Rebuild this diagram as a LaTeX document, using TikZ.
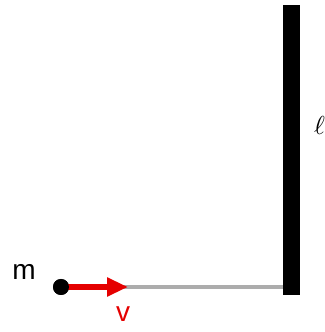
\documentclass[tikz,border=0pt]{standalone}
\usepackage{fontspec}
\setmainfont{Liberation Sans}
\usetikzlibrary{arrows.meta}

\tikzset{
  wall/.style={fill=black, draw=none, minimum width=17pt, minimum height=290pt, inner sep=0pt},
  mass/.style={circle, fill=black, minimum size=16pt, inner sep=0pt},
  rod/.style={gray!65, line width=4pt},
  vel/.style={red!90!black, line width=6pt, -{Triangle[length=21pt,width=18pt]}},
  lbl/.style={font=\fontsize{28}{30}\selectfont}
}

\begin{document}
\begin{tikzpicture}[x=1pt,y=1pt]

  \useasboundingbox (0,0) rectangle (324,332);

  % Wall
  \node[wall] (wall) at (291.5,182) {};

  % Mass and rod
  \node[mass] (mass) at (61,45) {};
  \coordinate (tip) at (128,45);
  \draw[rod] (mass.center) -- (mass.center -| wall.west);
  \draw[vel] (mass.center) -- (tip);
  \node[mass] at (mass) {};

  % Labels
  \node[lbl] (mlabel) at (24,60) {m};
  \node[lbl, text=red!90!black] (vlabel) at (123,18) {v};
  \node[anchor=west, inner sep=0pt] (llabel) at (314,207) {\scalebox{2.6}{$\ell$}};

\end{tikzpicture}
\end{document}
